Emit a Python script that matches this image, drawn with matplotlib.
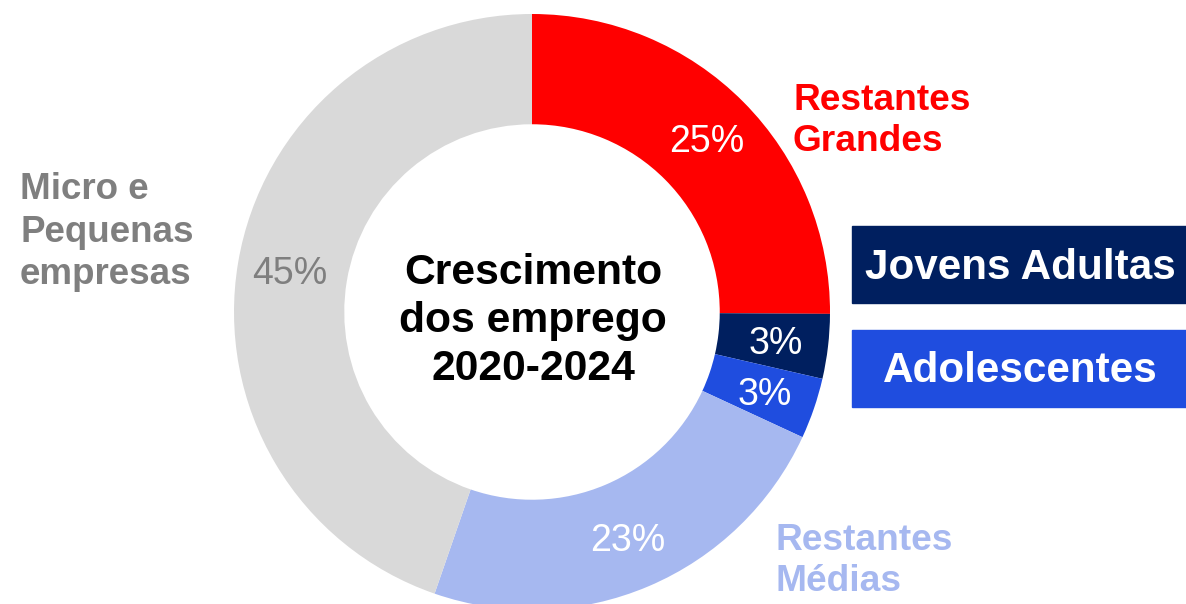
import matplotlib
matplotlib.use('Agg')
import matplotlib.pyplot as plt
import numpy as np

plt.rcParams['font.family'] = ['Liberation Sans', 'DejaVu Sans']

# Data (clockwise from 12 o'clock); shares,
# pct_labels are the rounded figures printed on the chart
segments   = ['Restantes Grandes', 'Jovens Adultas', 'Adolescentes', 'Restantes Médias', 'Micro e Pequenas empresas']
shares     = [25.1, 3.5, 3.3, 23.4, 44.7]
pct_labels = ['25%', '3%', '3%', '23%', '45%']
colors     = ['#ff0000', '#001f5f', '#1f4ddf', '#a6b8f0', '#d9d9d9']
pct_colors = ['white', 'white', 'white', 'white', '#7f7f7f']

W, H = 1186, 604
fig = plt.figure(figsize=(W / 100, H / 100), dpi=100)

# donut centre / radius in pixels
cx, cy, R = 532, 312, 298
ax = fig.add_axes([(cx - R) / W, (H - cy - R) / H, 2 * R / W, 2 * R / H])

wedges, _ = ax.pie(
    shares, colors=colors, startangle=90, counterclock=False,
    radius=1, wedgeprops=dict(width=0.37, edgecolor='none'),
)

# percentage labels at the middle of each ring segment (nudged ~3px down)
for w, lab, c in zip(wedges, pct_labels, pct_colors):
    mid = np.deg2rad((w.theta1 + w.theta2) / 2)
    ax.text(0.825 * np.cos(mid), 0.825 * np.sin(mid) - 3 / R, lab, ha='center', va='center',
            fontsize=27, color=c)

ax.set_xlim(-1, 1)
ax.set_ylim(-1, 1)
ax.set_aspect('equal')
ax.axis('off')

def px(x, y):
    return (x - cx) / R, (cy - y) / R

ax.text(*px(533, 321), 'Crescimento\ndos emprego\n2020-2024', ha='center', va='center',
        fontsize=30.7, fontweight='bold', color='black', linespacing=1.26)

ax.text(*px(793, 121), 'Restantes\nGrandes', ha='left', va='center',
        fontsize=26.7, fontweight='bold', color=colors[0], linespacing=1.25, clip_on=False)
ax.text(*px(776, 561), 'Restantes\nMédias', ha='left', va='center',
        fontsize=26.7, fontweight='bold', color=colors[3], linespacing=1.25, clip_on=False)
ax.text(*px(20, 232), 'Micro e\nPequenas\nempresas', ha='left', va='center',
        fontsize=26.5, fontweight='bold', color='#7f7f7f', linespacing=1.27, clip_on=False)

# boxed labels on the right
for label, color, y0, y1 in [('Jovens Adultas', colors[1], 226, 303),
                             ('Adolescentes', colors[2], 330, 407)]:
    fig.patches.append(plt.Rectangle((852 / W, 1 - y1 / H), (W - 852) / W, (y1 - y0) / H,
                                     transform=fig.transFigure, color=color, zorder=0))
    fig.text((852 + W) / 2 / W + 1 / W, 1 - ((y0 + y1) / 2 + 3) / H, label, ha='center', va='center',
             fontsize=30.4, fontweight='bold', color='white')

fig.savefig('out.png', dpi=100)
